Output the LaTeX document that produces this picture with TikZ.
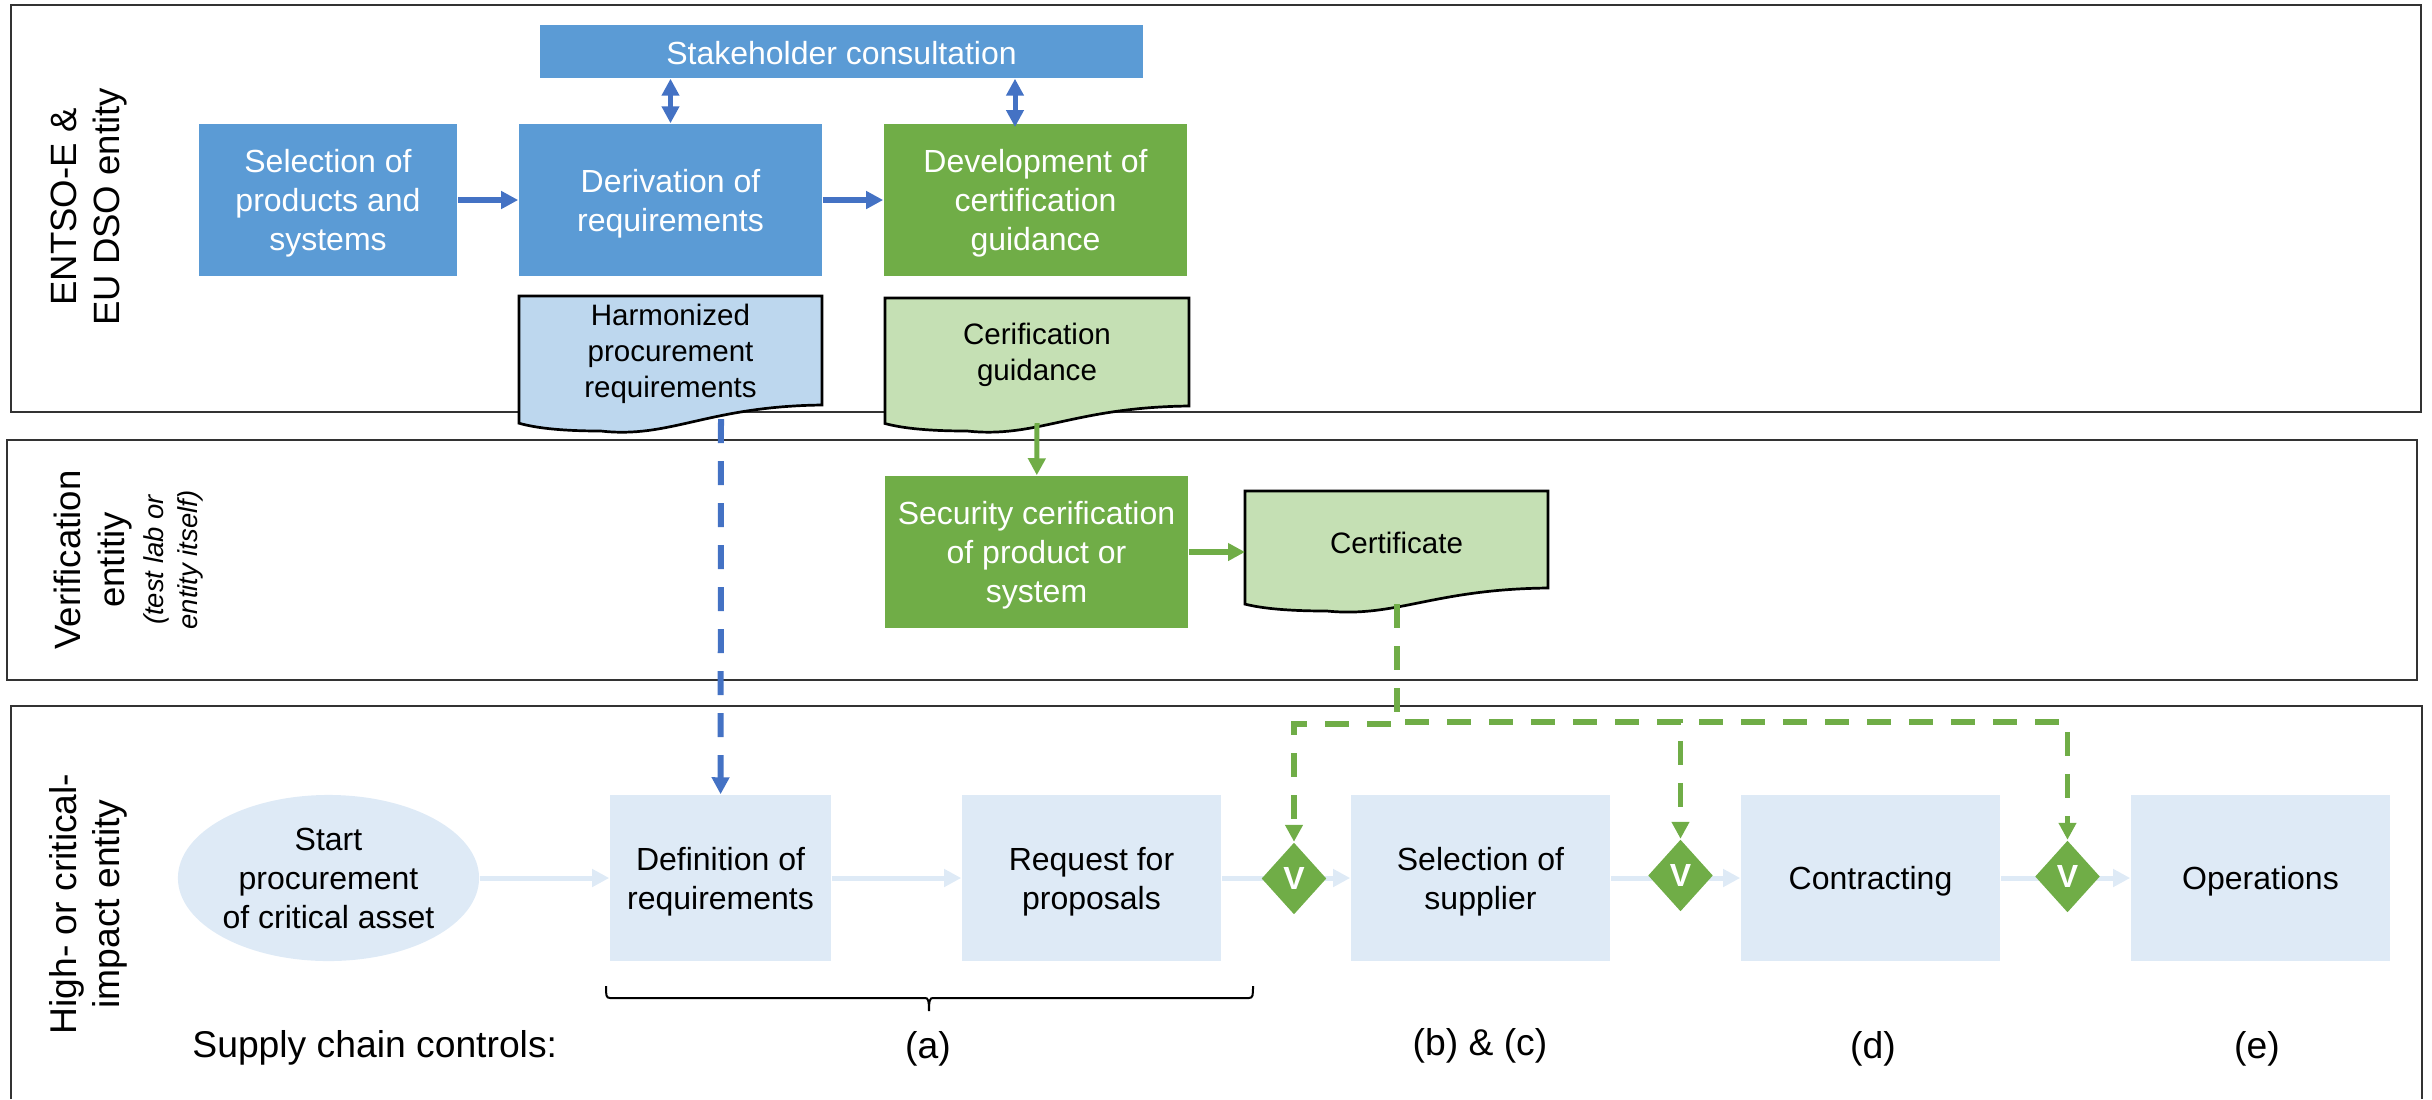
\documentclass[tikz,border=0pt]{standalone}
\usepackage{fontspec}
\setmainfont{Liberation Sans}
\usetikzlibrary{arrows.meta,shapes.geometric}

\definecolor{boxblue}{HTML}{5B9BD5}
\definecolor{boxgreen}{HTML}{70AD47}
\definecolor{arrowblue}{HTML}{4472C4}
\definecolor{docblue}{HTML}{BDD7EE}
\definecolor{docgreen}{HTML}{C5E0B4}
\definecolor{rowblue}{HTML}{DEEAF6}

\tikzset{
	panel/.style={draw=black!80,line width=0.024cm},
	stepbox/.style={rectangle,inner sep=0pt,align=center,font=\fontsize{9.1}{11.1}\selectfont},
	whitebox/.style={stepbox,text=white},
	rowbox/.style={stepbox,fill=rowblue,minimum height=1.66cm},
	sidelabel/.style={rotate=90,align=center,font=\fontsize{10.4}{12.3}\selectfont},
	ctrllabel/.style={font=\fontsize{10.6}{12.5}\selectfont},
	vcheck/.style={diamond,fill=boxgreen,text=white,inner sep=0pt,minimum width=0.65cm,minimum height=0.72cm,font=\fontsize{9.1}{11}\selectfont\bfseries},
	flowblue/.style={arrowblue,line width=0.06cm,-{Triangle[length=0.17cm,width=0.17cm]}},
	flowboth/.style={arrowblue,line width=0.05cm,{Triangle[length=0.17cm,width=0.17cm]}-{Triangle[length=0.17cm,width=0.17cm]}},
	flowgreen/.style={boxgreen,line width=0.05cm,-{Triangle[length=0.17cm,width=0.17cm]}},
	flowlight/.style={rowblue,line width=0.05cm,-{Triangle[length=0.17cm,width=0.17cm]}},
	dashblue/.style={flowblue,dash pattern=on 0.24cm off 0.18cm},
	dashgreen/.style={flowgreen,line width=0.055cm,dash pattern=on 0.24cm off 0.18cm},
}

\newcommand{\entnote}[1]{{\fontsize{7.8}{9.4}\selectfont\itshape #1}}
\newcommand{\tdown}{\rule{0pt}{8.6pt}}

\newcommand{\pdoc}[8]{
	\pgfmathsetmacro{\PDxa}{#2}
	\pgfmathsetmacro{\PDxb}{#3}
	\pgfmathsetmacro{\PDya}{#4}
	\pgfmathsetmacro{\PDyb}{#5}
	\pgfmathsetmacro{\PDd}{#6}
	\pgfmathsetmacro{\PDw}{\PDxb-\PDxa}
	\pgfmathsetmacro{\PDca}{\PDxa+0.5*\PDw}
	\pgfmathsetmacro{\PDcb}{\PDxa+0.62*\PDw}
	\draw[black,fill=#7,line width=0.027cm] (\PDxa,\PDya) -- (\PDxb,\PDya) -- (\PDxb,\PDyb) .. controls (\PDcb,\PDyb+0.05*\PDd) and (\PDca,\PDyb+1.3*\PDd) .. (\PDxa+0.27*\PDw,\PDyb+\PDd) .. controls (\PDxa+0.15*\PDw,\PDyb+\PDd) and (\PDxa+0.06*\PDw,\PDyb+0.9*\PDd) .. (\PDxa,\PDyb+0.7*\PDd) -- cycle;
	\node[align=center,font=\fontsize{8.4}{10.2}\selectfont] (#1) at ({0.5*(\PDxa+\PDxb)},{0.5*(\PDya+\PDyb)}) {\rule{0pt}{7.9pt}#8};
}

\begin{document}
\begin{tikzpicture}[x=0.01cm,y=-0.01cm]
\useasboundingbox (0,0) rectangle (2432,1099);

\draw[panel] (11,5) rectangle (2421,412);
\draw[panel] (7,440) rectangle (2417,680);
\draw[panel] (11,1099) -- (11,706) -- (2422,706) -- (2422,1099);

\node[sidelabel] (entsolabel) at (89,207) {ENTSO-E \&\\EU DSO entity};
\node[sidelabel] (veriflabel) at (129,560) {Verification\\entitiy\\[-1pt]\entnote{(test lab or}\\[-2.6pt]\entnote{entity itself)}};
\node[sidelabel,font=\fontsize{10.6}{12.3}\selectfont] (highlabel) at (88,904) {High- or critical-\\impact entity};

\node[whitebox,fill=boxblue,minimum width=6.03cm,minimum height=0.53cm] (stake) at (841.5,51.5) {\rule{0pt}{7.6pt}Stakeholder consultation};
\node[whitebox,fill=boxblue,minimum width=2.58cm,minimum height=1.52cm] (selprod) at (328,200) {\tdown Selection of\\products and\\systems};
\node[whitebox,fill=boxblue,minimum width=3.03cm,minimum height=1.52cm] (deriv) at (670.5,200) {\tdown Derivation of\\requirements};
\node[whitebox,fill=boxgreen,minimum width=3.03cm,minimum height=1.52cm] (devel) at (1035.5,200) {\tdown Development of\\certification\\guidance};
\node[whitebox,fill=boxgreen,minimum width=3.03cm,minimum height=1.52cm] (secur) at (1036.5,552) {\tdown Security cerification\\of product or\\system};

\coordinate (guideout) at (1037,423);
\coordinate (harmout) at (721,419);
\coordinate (certout) at (1397,604);
\draw[dashblue,-] (harmout) -- ++(0,10);
\draw[boxgreen,line width=0.055cm] (certout) -- ++(0,10);

\pdoc{harm}{519}{822}{296}{405}{26}{docblue}{Harmonized\\procurement\\requirements}
\pdoc{guide}{885}{1189}{298}{406}{25}{docgreen}{Cerification\\guidance}
\pdoc{certif}{1245}{1548}{491}{588}{23}{docgreen}{Certificate}

\node[rowbox,shape=ellipse,minimum width=3.01cm] (start) at (328.5,878) {Start\\procurement\\of critical asset};
\node[rowbox,minimum width=2.21cm] (defn) at (720.5,878) {\tdown Definition of\\requirements};
\node[rowbox,minimum width=2.59cm] (rfp) at (1091.5,878) {\tdown Request for\\proposals};
\node[rowbox,minimum width=2.59cm] (supp) at (1480.5,878) {\tdown Selection of\\supplier};
\node[rowbox,minimum width=2.59cm] (contr) at (1870.5,878) {\tdown Contracting};
\node[rowbox,minimum width=2.59cm] (oper) at (2260.5,878) {\tdown Operations};

\draw[flowlight] (start) -- (defn);
\draw[flowlight] (defn) -- (rfp);
\draw[flowlight] (rfp) -- (supp);
\draw[flowlight] (supp) -- (contr);
\draw[flowlight] (contr) -- (oper);

\node[vcheck] (va) at (1294,878.5) {V};
\node[vcheck] (vb) at (1680.5,875.5) {V};
\node[vcheck] (vc) at (2067.5,876.5) {V};

\coordinate (devtop) at (1015,127);
\coordinate (busa) at (1294,724);
\coordinate (busb) at (1680.5,722);
\coordinate (busc) at (2067.5,722);

\draw[flowblue] (selprod) -- (deriv);
\draw[flowblue] (deriv) -- (devel);
\draw[flowboth] (deriv.north) -- (deriv.north |- stake.south);
\draw[flowboth] (devtop) -- (devtop |- stake.south);
\draw[flowgreen] (guideout) -- (secur);
\draw[flowgreen,line width=0.06cm] (secur) -- (secur -| 1245,0);
\draw[dashblue] (harmout) -- (defn);
\draw[dashgreen] (certout) |- (busa) -- (va);
\draw[dashgreen] (certout) |- (busb) -- (vb);
\draw[dashgreen] (certout) |- (busc) -- (vc);

\draw[black,line width=0.02cm] (606,986) .. controls (606,995) and (606,998) .. (610,998) -- (925,998) .. controls (928,998) and (929,1000) .. (929,1011) .. controls (929,1000) and (930,998) .. (933,998) -- (1249,998) .. controls (1253,998) and (1253,995) .. (1253,986);

\node[ctrllabel,anchor=west] (ctrl) at (180,1048) {Supply chain controls:};
\node[ctrllabel] (ctrla) at (928,1049) {(a)};
\node[ctrllabel] (ctrlb) at (1480,1046) {(b) \& (c)};
\node[ctrllabel] (ctrld) at (1873,1049) {(d)};
\node[ctrllabel] (ctrle) at (2257,1049) {(e)};
\end{tikzpicture}
\end{document}
